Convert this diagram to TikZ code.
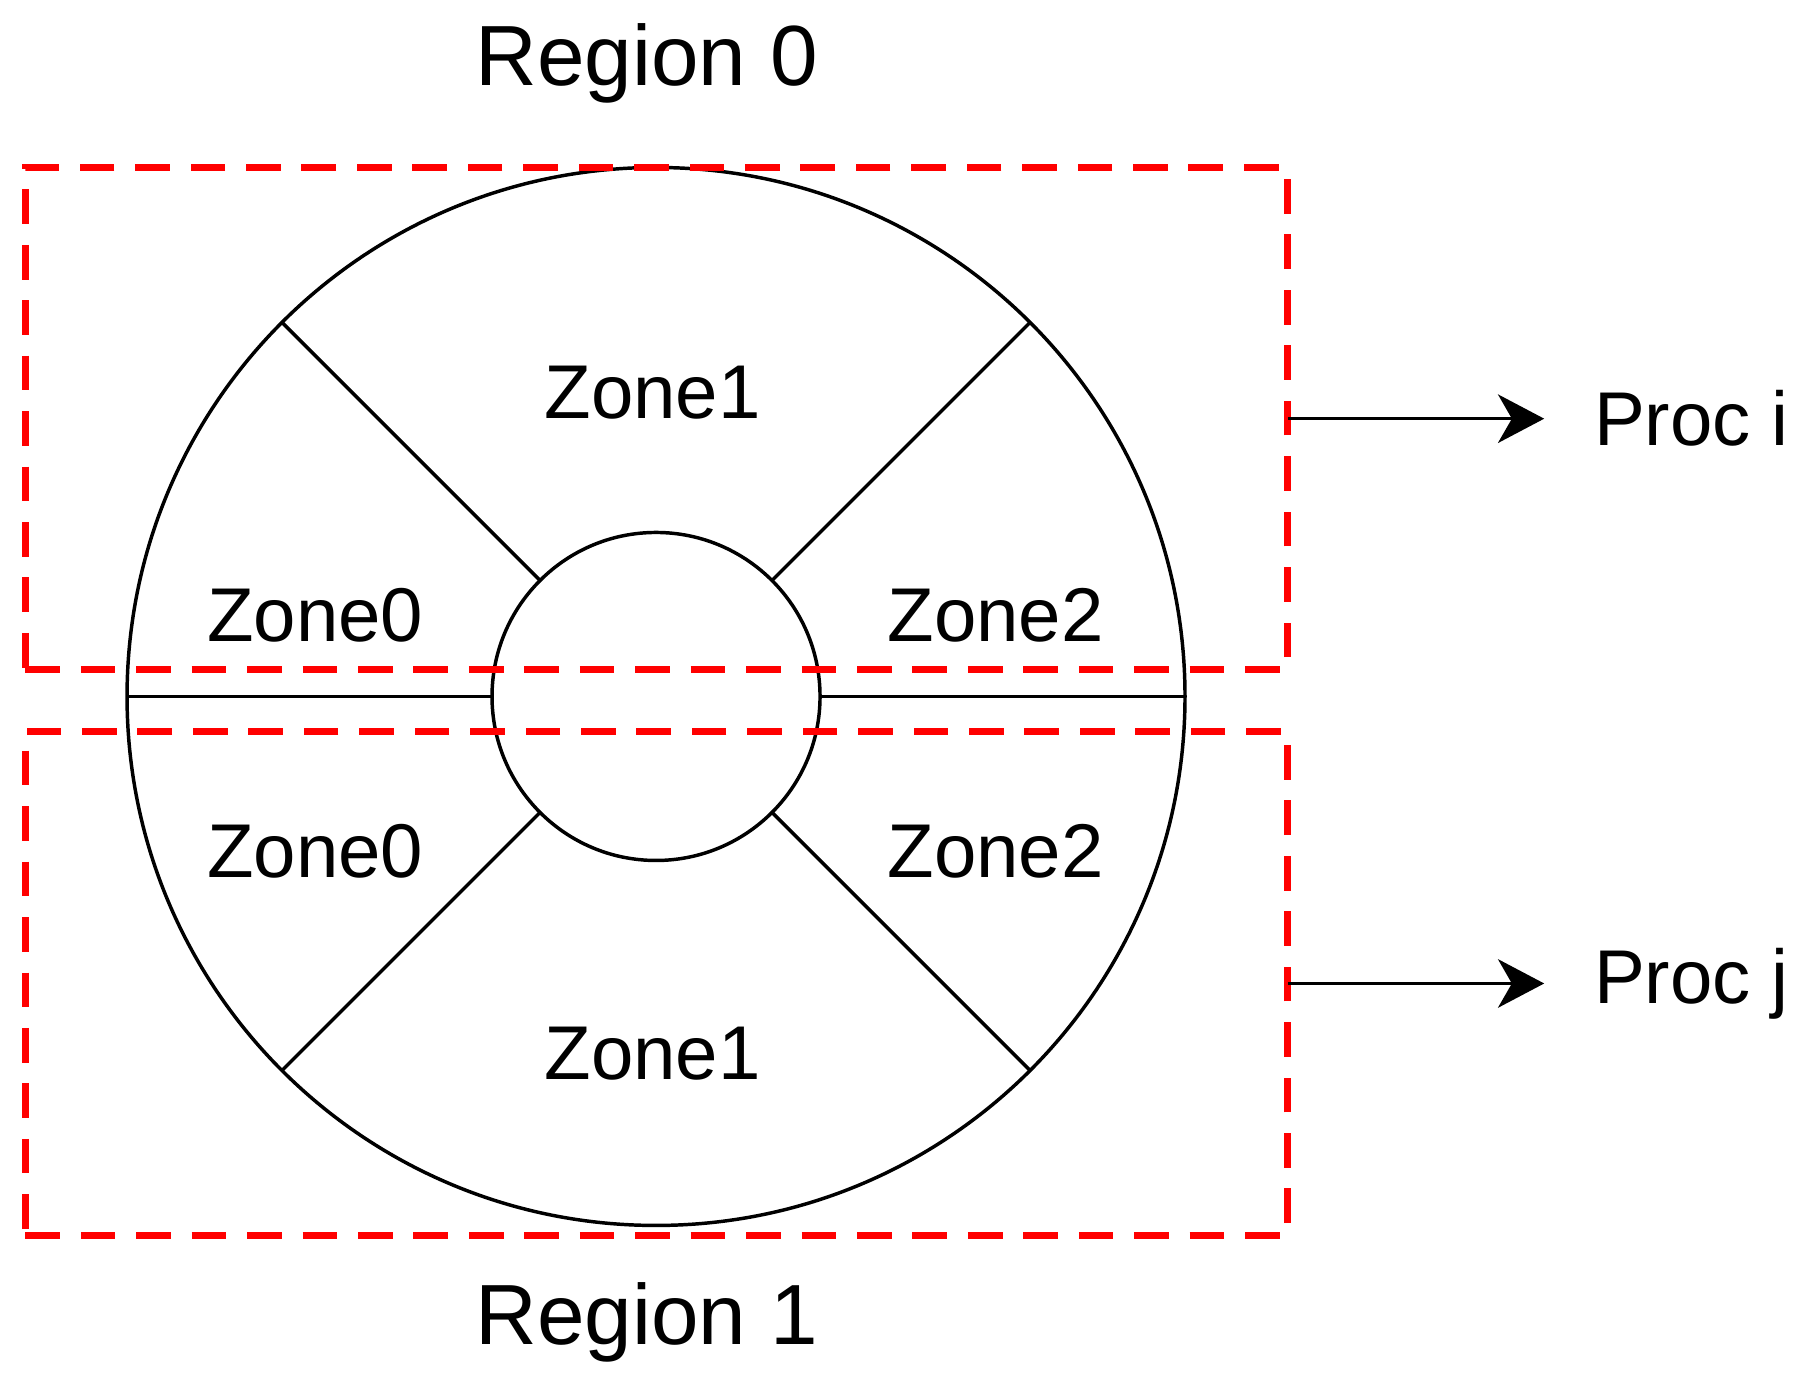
\documentclass[tikz,border=0pt]{standalone}
\usepackage{fontspec}
\setmainfont{Liberation Sans}
\usetikzlibrary{arrows.meta,calc}
\begin{document}
\begin{tikzpicture}[x=1pt,y=-1pt]
  \tikzset{RegionStyle/.style = {
    shape         = rectangle,
    draw          = red,
    line width    = 6pt,
    dash pattern  = on 30pt off 18pt,
    inner sep     = 0pt,
    outer sep     = 0pt,
    minimum width = 1093pt
    }
  }
  \tikzset{LabelStyle/.style = {
    inner sep     = 0pt,
    font          = \fontsize{66}{70}\selectfont
    }
  }
  \tikzset{ArrowStyle/.style = {
    draw          = black,
    line width    = 3pt,
    shorten >     = 43pt,
    -{Stealth[length=40pt,width=42pt,inset=12pt]}
    }
  }
  \useasboundingbox (0,0) rectangle (1568,1200);

  % wheel
  \coordinate (C) at (568,603);
  \draw[line width=3pt] (C) circle[radius=458];
  \draw[line width=3pt] (C) circle[radius=142];
  \foreach \a in {0,45,135,180,225,315}
    \draw[line width=3pt] ($(C)+(\a:142)$) -- ($(C)+(\a:458)$);

  % regions
  \node[RegionStyle, minimum height=435pt](R0) at (568.5,362.5) {};
  \node[RegionStyle, minimum height=437pt](R1) at (568.5,851.5) {};

  % texts
  \node[LabelStyle, font=\fontsize{74}{80}\selectfont](T0) at (560,55) {Region 0};
  \node[LabelStyle, font=\fontsize{74}{80}\selectfont](T1) at (560,1145) {Region 1};
  \node[LabelStyle](Z1a) at (565,340) {Zone1};
  \node[LabelStyle](Z0a) at (273,533) {Zone0};
  \node[LabelStyle](Z2a) at (862,533) {Zone2};
  \node[LabelStyle](Z0b) at (273,737) {Zone0};
  \node[LabelStyle](Z2b) at (862,737) {Zone2};
  \node[LabelStyle](Z1b) at (565,912) {Zone1};
  \node[LabelStyle, anchor=west](Pi) at (1380,362.5) {Proc i};
  \node[LabelStyle, anchor=west](Pj) at (1380,851.5) {Proc j};

  \draw[ArrowStyle](R0.east) -- (Pi.west);
  \draw[ArrowStyle](R1.east) -- (Pj.west);
\end{tikzpicture}
\end{document}
